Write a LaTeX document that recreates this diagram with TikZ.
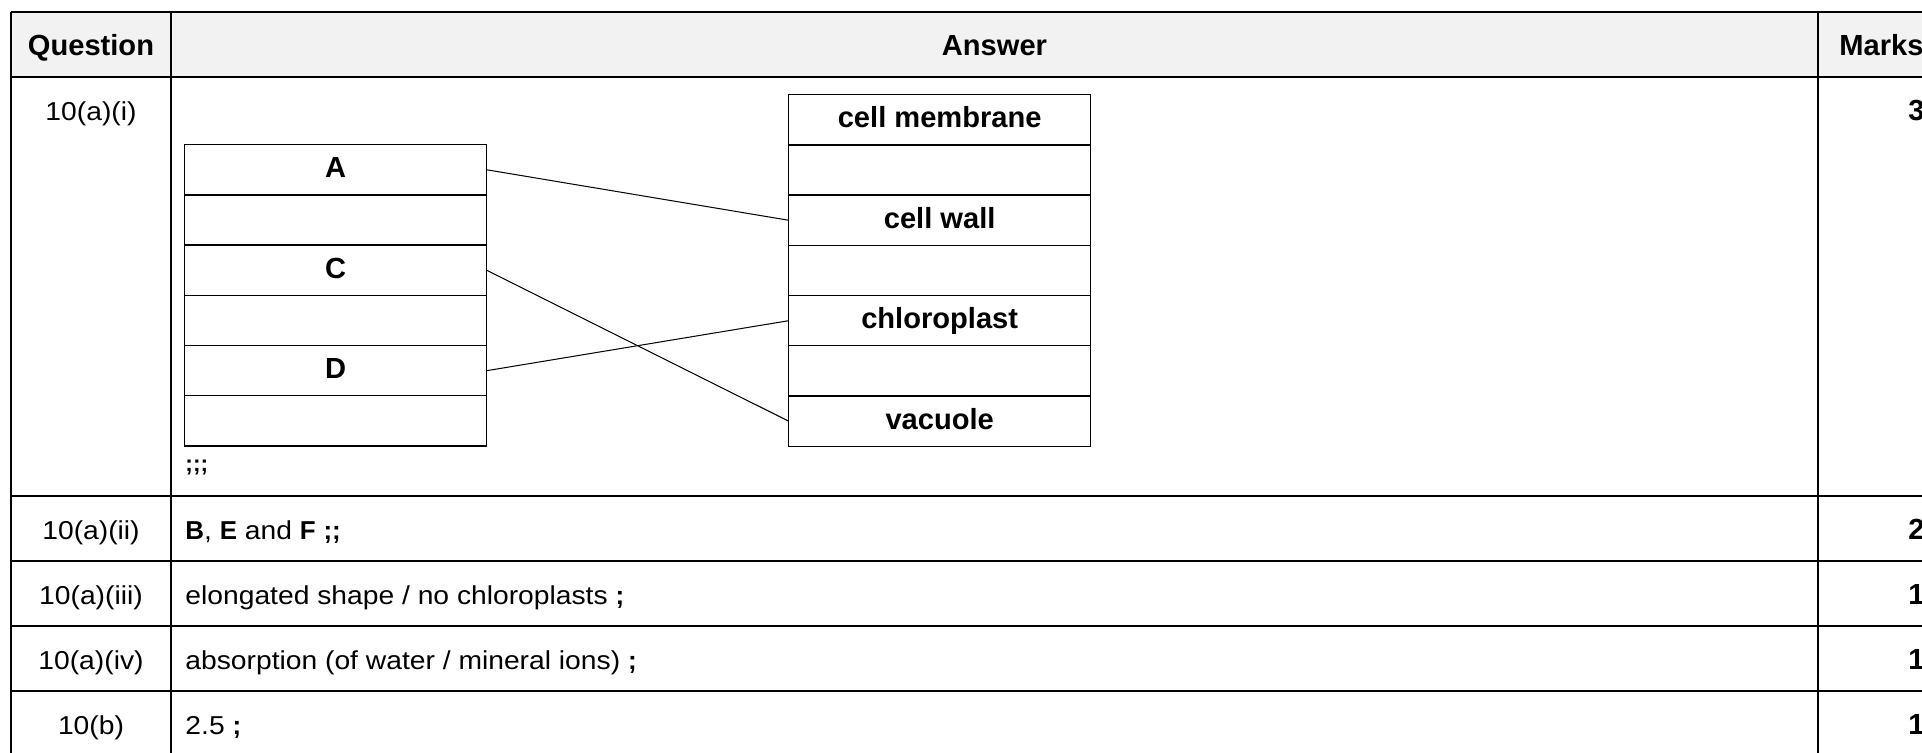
\documentclass[tikz,border=0pt]{standalone}
\usepackage{fontspec}
\setmainfont{Liberation Sans}[FakeStretch=1.09, BoldFeatures={FakeStretch=1.0}]
\usepackage{tikz}
\usetikzlibrary{matrix}

\definecolor{headgray}{HTML}{F2F2F2}

\tikzset{
	boldlabel/.style={font=\fontsize{12.8}{15.4}\selectfont\bfseries},
	cellbox/.style={draw, line width=0.58pt, minimum width=132.9pt, minimum height=22.1pt,
		inner sep=0pt, text height=0.716em, text depth=0pt, boldlabel},
	rule/.style={line width=0.66pt},
	link/.style={line width=0.45pt},
	qtext/.style={inner sep=0pt, anchor=base},
	atext/.style={inner sep=0pt, anchor=base west},
	mtext/.style={inner sep=0pt, anchor=base west, boldlabel}
}

\begin{document}
\begin{tikzpicture}[x=0.44pt, y=-0.44pt, font=\fontsize{11.4}{13.7}\selectfont]
\useasboundingbox (0,0) rectangle (1922,752);
\clip (0,0) rectangle (1922,752);

% table
\fill[headgray] (11,12) rectangle (1934,77);
\draw[rule] (11,12) -- (1934,12);
\foreach \y in {77,496,561,626,691}
	\draw[rule] (11,\y) -- (1934,\y);
\foreach \x in {11,171,1818,1934}
	\draw[rule] (\x,12) -- (\x,760);

\node[qtext, boldlabel] (hq) at (91,55) {Question};
\node[qtext, boldlabel] (ha) at (994.5,55) {Answer};
\node[qtext, boldlabel, anchor=base west] (hm) at (1839,55) {Marks};

\node[qtext] (q1) at (91,120) {10(a)(i)};
\node[qtext] (q2) at (91,539) {10(a)(ii)};
\node[qtext] (q3) at (91,604) {10(a)(iii)};
\node[qtext] (q4) at (91,669) {10(a)(iv)};
\node[qtext] (q5) at (91,734) {10(b)};

\node[mtext] (m1) at (1908,120) {3};
\node[mtext] (m2) at (1908,539) {2};
\node[mtext] (m3) at (1908,604) {1};
\node[mtext] (m4) at (1908,669) {1};
\node[mtext] (m5) at (1908,734) {1};

% matching boxes
\matrix (l) [matrix of nodes, nodes in empty cells, nodes={cellbox}, row sep=-0.58pt,
	inner sep=0pt, outer sep=0pt, anchor=north west] at (184,144)
{
	A \\
	\\
	C \\
	\\
	D \\
	\\
};
\matrix (r) [matrix of nodes, nodes in empty cells, nodes={cellbox}, row sep=-0.58pt,
	inner sep=0pt, outer sep=0pt, anchor=north west] at (788,94)
{
	cell membrane \\
	\\
	cell wall \\
	\\
	chloroplast \\
	\\
	vacuole \\
};
\draw[link] (l-1-1.east) -- (r-3-1.west);
\draw[link] (l-3-1.east) -- (r-7-1.west);
\draw[link] (l-5-1.east) -- (r-5-1.west);

\node[atext, font=\bfseries] (a1) at (185,471) {;;;};
\node[atext] (a2) at (185,539) {\textbf{B}, \textbf{E} and \textbf{F} \textbf{;;}};
\node[atext] (a3) at (185,604) {elongated shape / no chloroplasts \textbf{;}};
\node[atext] (a4) at (185,669) {absorption (of water / mineral ions) \textbf{;}};
\node[atext] (a5) at (185,734) {2.5 \textbf{;}};
\end{tikzpicture}
\end{document}
